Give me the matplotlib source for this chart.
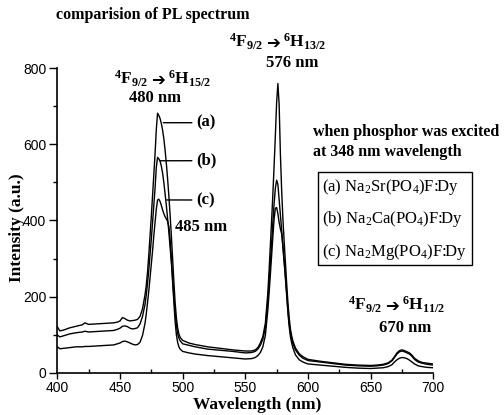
import matplotlib
matplotlib.use("Agg")
import matplotlib.pyplot as plt
from matplotlib.ticker import MultipleLocator

# Emission wavelengths (nm)
wavelength = [
    400, 402, 405, 410, 415, 420, 422, 425, 430, 435, 440, 445, 448, 450, 452, 454, 456, 458, 460, 462, 464, 466, 468, 470,
    471, 472, 473, 474, 475, 476, 477, 478, 479, 480, 481, 482, 483, 484, 485, 486, 487, 488, 489, 490, 491, 492, 493, 494,
    495, 496, 497, 498, 500,
    505, 510, 520, 530, 540, 550, 555, 558, 560,
    562, 564, 566, 568, 569, 570, 571, 572, 573, 574, 575, 576, 577, 578, 579, 580, 581, 582, 583, 584, 585, 586, 587, 588,
    590, 593, 596, 600,
    610, 620, 630, 640, 650, 655, 660, 664, 667, 669, 671, 673, 675, 677, 679, 681, 683, 685, 688, 691, 695, 700,
]

# (a) Na2Sr(PO4)F:Dy
sr_intensity = [
    121, 110, 112, 118, 122, 126, 131, 127, 128, 129, 130, 131, 133, 136, 145, 142, 138, 136, 137, 138, 140, 148, 168, 205,
    230, 265, 310, 360, 410, 465, 520, 575, 640, 682, 676, 668, 655, 638, 615, 585, 550, 510, 465, 415, 360, 300, 240, 185,
    145, 118, 102, 93, 85,
    78, 74, 68, 64, 60, 57, 57, 60, 66,
    78, 95, 130, 210, 270, 335, 400, 470, 545, 625, 710, 760, 705, 575, 480, 405, 345, 290, 235, 185, 145, 115, 97, 83,
    65, 50, 42, 35,
    30, 26, 22, 20, 19, 20, 22, 26, 33, 42, 52, 58, 60, 58, 55, 52, 46, 38, 31, 27, 25, 23,
]

# (b) Na2Ca(PO4)F:Dy
ca_intensity = [
    99, 94, 97, 102, 105, 107, 109, 107, 108, 109, 110, 111, 114, 117, 122, 123, 121, 117, 115, 116, 118, 128, 148, 180,
    205, 235, 270, 310, 350, 395, 440, 485, 540, 566, 562, 556, 543, 525, 500, 470, 440, 405, 370, 330, 290, 245, 200, 160,
    125, 103, 91, 84, 76,
    72, 68, 62, 59, 56, 52, 53, 56, 62,
    72, 88, 118, 190, 240, 290, 340, 395, 445, 485, 506, 495, 455, 415, 375, 335, 295, 255, 210, 165, 130, 104, 88, 76,
    60, 46, 38, 32,
    28, 24, 20, 18, 17, 18, 20, 24, 31, 40, 49, 55, 57, 55, 52, 49, 43, 35, 28, 25, 22, 20,
]

# (c) Na2Mg(PO4)F:Dy
mg_intensity = [
    68, 63, 64, 66, 68, 68, 69, 69, 70, 71, 72, 73, 76, 78, 82, 83, 81, 78, 75, 73, 74, 80, 98, 130,
    155, 185, 215, 250, 285, 320, 360, 395, 430, 454, 456, 450, 440, 428, 418, 410, 404, 398, 385, 350, 300, 240, 185, 135,
    100, 80, 68, 62, 56,
    52, 49, 45, 42, 39, 36, 37, 40, 45,
    53, 68, 98, 165, 210, 258, 308, 358, 405, 432, 434, 418, 395, 378, 365, 330, 290, 248, 203, 158, 122, 95, 78, 65,
    47, 34, 28, 23,
    20, 17, 14, 12, 11, 12, 13, 16, 21, 28, 34, 38, 40, 39, 37, 33, 28, 23, 18, 16, 14, 13,
]

x_ticks = [400, 450, 500, 550, 600, 650, 700]
y_ticks = [0, 200, 400, 600, 800]
series_tags = ["(a)", "(b)", "(c)"]
phosphors = [
    "(a) Na$_\\mathsf{2}$Sr(PO$_\\mathsf{4}$)F:Dy",
    "(b) Na$_\\mathsf{2}$Ca(PO$_\\mathsf{4}$)F:Dy",
    "(c) Na$_\\mathsf{2}$Mg(PO$_\\mathsf{4}$)F:Dy",
]
upper_level = r"$^4$F$_{9/2}$"
lower_levels = [r"$^6$H$_{15/2}$", r"$^6$H$_{13/2}$", r"$^6$H$_{11/2}$"]
peak_labels = ["480 nm", "576 nm", "670 nm"]

plt.rcParams["mathtext.fontset"] = "custom"
plt.rcParams["mathtext.rm"] = "Liberation Serif:bold"
plt.rcParams["mathtext.bf"] = "Liberation Serif:bold"
plt.rcParams["mathtext.it"] = "Liberation Serif:italic:bold"
plt.rcParams["mathtext.sf"] = "Liberation Serif"

SERIF = "Liberation Serif"
TICKFONT = ["Liberation Sans Narrow", "Liberation Sans"]

W, H = 504, 415
fig = plt.figure(figsize=(W / 100, H / 100), dpi=100)

def px(x, y):
    return x / W, 1 - y / H

left, right, top, bottom = 57.3, 433.3, 68.3, 372.7
ax = fig.add_axes([left / W, 1 - bottom / H, (right - left) / W, (bottom - top) / H])

for vals in (sr_intensity, ca_intensity, mg_intensity):
    ax.plot(wavelength, vals, color="black", lw=1.0)

ax.set_xlim(400, 700)
ax.set_ylim(0, 800)
ax.set_xticks(x_ticks)
ax.set_yticks(y_ticks)
ax.xaxis.set_minor_locator(MultipleLocator(25))
ax.yaxis.set_minor_locator(MultipleLocator(100))
for s in ("top", "right"):
    ax.spines[s].set_visible(False)
for s in ("left", "bottom"):
    ax.spines[s].set_linewidth(1.2)
ax.tick_params(axis="x", which="major", direction="out", length=4, width=1, pad=2)
ax.tick_params(axis="x", which="minor", direction="in", length=3, width=1)
ax.tick_params(axis="y", which="major", direction="out", length=6, width=1, pad=2)
ax.tick_params(axis="y", which="minor", direction="out", length=3, width=1)
for lab in ax.get_xticklabels() + ax.get_yticklabels():
    lab.set_fontfamily(TICKFONT)
    lab.set_fontsize(10)

bold = dict(family=SERIF, fontweight="bold")

fig.text(*px(153, 15), "comparision of PL spectrum", ha="center", va="center", fontsize=11.5, **bold)
fig.text(*px(257, 405), "Wavelength (nm)", ha="center", va="center", fontsize=12.5, **bold)
fig.text(*px(17, 228), "Intensity (a.u.)", ha="center", va="center", rotation=90, fontsize=12.5, **bold)

# Transition labels: upper level, heavy arrow, lower level, then the peak wavelength
arrow_pos = [(158, 79), (273, 42), (392, 305)]
nm_pos = [(155, 98), (292, 63), (405, 328)]
for lower, nm, (cx, cy), (nx, ny) in zip(lower_levels, peak_labels, arrow_pos, nm_pos):
    fig.text(*px(cx - 10, cy), upper_level, ha="right", va="center", fontsize=12.5, **bold)
    fig.text(*px(cx, cy + 1), "\u2794", ha="center", va="center", fontsize=12,
             family="DejaVu Sans", fontweight="bold")
    fig.text(*px(cx + 10, cy), lower, ha="left", va="center", fontsize=12.5, **bold)
    fig.text(*px(nx, ny), nm, ha="center", va="center", fontsize=12, **bold)
fig.text(*px(201, 227), "485 nm", ha="center", va="center", fontsize=12, **bold)

fig.text(*px(313, 132), "when phosphor was excited", ha="left", va="center", fontsize=11.5, **bold)
fig.text(*px(313, 152), "at 348 nm wavelength", ha="left", va="center", fontsize=11.5, **bold)

# Leader lines from the 480 nm peaks to the series tags
tag_points = [(484.6, 657), (482.0, 557), (487.3, 454)]
tag_y = [122.7, 160.7, 200.0]
for tag, (xw, yi), ty in zip(series_tags, tag_points, tag_y):
    ax.annotate(tag, xy=(xw, yi), xycoords="data",
                xytext=px(196, ty), textcoords="figure fraction",
                ha="left", va="center", fontsize=12, annotation_clip=False,
                arrowprops=dict(arrowstyle="-", color="black", lw=1.0, shrinkA=1, shrinkB=0),
                **bold)

# Phosphor key box
box = plt.Rectangle(px(318.3, 265), (471.7 - 318.3) / W, (265 - 171.7) / H,
                    transform=fig.transFigure, fill=False, edgecolor="black", lw=1.0)
fig.add_artist(box)
for txt, ty in zip(phosphors, [187, 218.5, 251.5]):
    fig.text(*px(322.5, ty), txt, ha="left", va="center", fontsize=12, family=SERIF)

fig.savefig("out.png", dpi=100)
